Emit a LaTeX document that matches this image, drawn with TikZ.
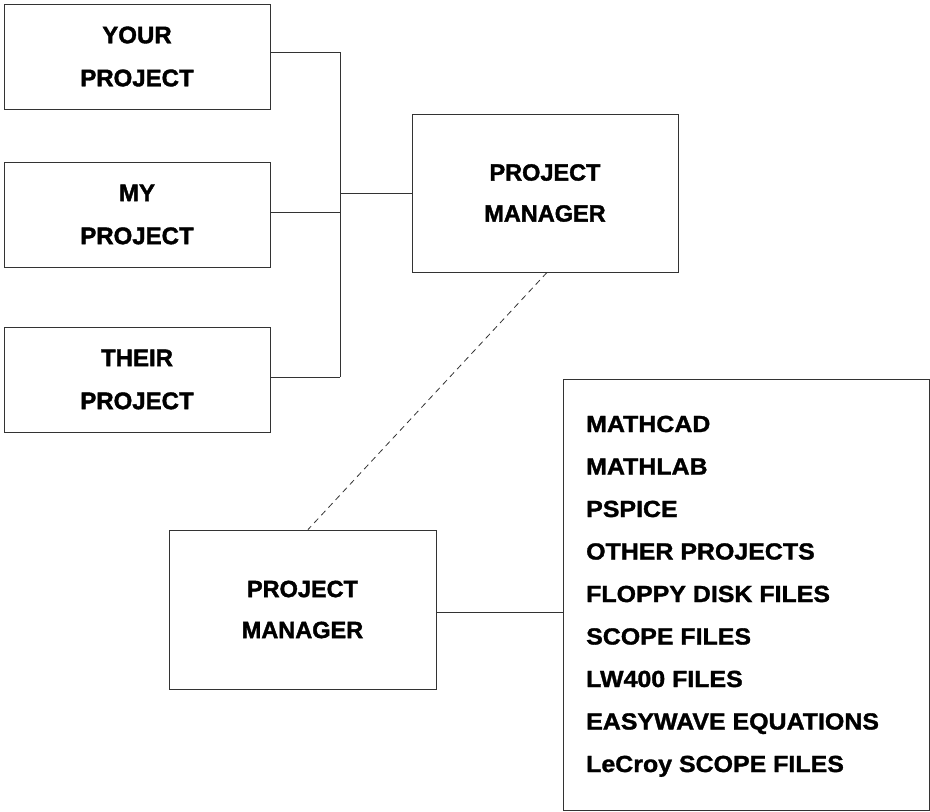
\documentclass[tikz,border=0pt]{standalone}
\usepackage{fontspec}
\setmainfont{Liberation Sans}[BoldFeatures={FakeBold=1.6}]
\newfontfamily\listfont{Liberation Sans}[FakeStretch=1.07,BoldFeatures={FakeBold=1.4}]
\begin{document}
\begin{tikzpicture}[x=1pt,y=-1pt,
  box/.style={draw=black!80,line width=0.9pt,rectangle,inner sep=0pt,align=center},
  projbox/.style={box,minimum width=266pt,minimum height=105pt,
    font=\fontsize{24}{43}\selectfont\bfseries},
  pmbox/.style={box,minimum width=266pt,minimum height=158pt,
    font=\fontsize{23.5}{41}\selectfont\bfseries},
  item/.style={anchor=base west,inner sep=0pt,font=\fontsize{23.3}{28}\listfont\bfseries},
  link/.style={draw=black!80,line width=0.9pt},
  dlink/.style={link,line width=0.8pt,dash pattern=on 6pt off 4.5pt}]
\useasboundingbox (0,0) rectangle (930,812);

\node[projbox] (yp) at (137,56.5) {YOUR\\PROJECT};
\node[projbox] (mp) at (137,214.5) {MY\\PROJECT};
\node[projbox] (tp) at (137,379.5) {THEIR\\PROJECT};

\node[pmbox] (pm1) at (545,193) {PROJECT\\MANAGER};
\node[pmbox,minimum width=267pt,minimum height=159pt] (pm2) at (302.5,609.5) {PROJECT\\MANAGER};

\node[box,minimum width=366pt,minimum height=431pt] (files) at (746,594.5) {};

\node[item] (l1) at (586,432) {MATHCAD};
\node[item] (l2) at (586,474.5) {MATHLAB};
\node[item] (l3) at (586,517) {PSPICE};
\node[item] (l4) at (586,559.5) {OTHER PROJECTS};
\node[item] (l5) at (586,602) {FLOPPY DISK FILES};
\node[item] (l6) at (586,644.5) {SCOPE FILES};
\node[item] (l7) at (586,687) {LW400 FILES};
\node[item] (l8) at (586,729.5) {EASYWAVE EQUATIONS};
\node[item] (l9) at (586,772) {LeCroy SCOPE FILES};

\coordinate (bus1) at (340,52);
\coordinate (bus2) at (340,212);
\coordinate (bus3) at (340,377);
\coordinate (jn) at (340,193);

\draw[link] (yp.east |- bus1) -- (bus1);
\draw[link] (mp.east |- bus2) -- (bus2);
\draw[link] (tp.east |- bus3) -- (bus3);
\draw[link] (bus1) -- (bus3);
\draw[link] (jn) -- (pm1.west |- jn);

\draw[dlink] ([xshift=2pt]pm1.south) -- ([xshift=5.5pt]pm2.north);
\draw[link] ([yshift=-2.5pt]pm2.east) -- ([yshift=-2.5pt]pm2.east -| files.west);
\end{tikzpicture}
\end{document}
